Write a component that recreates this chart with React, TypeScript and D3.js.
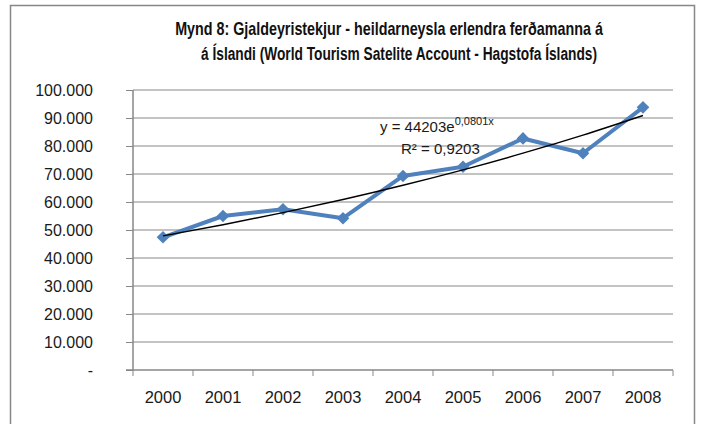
import React, { useEffect, useRef } from "react";
import * as d3 from "d3";

// data
const years = ["2000", "2001", "2002", "2003", "2004", "2005", "2006", "2007", "2008"];
const revenue = [47400, 55000, 57400, 54200, 69300, 72600, 82700, 77400, 93800];
// exponential trend line (y = 44203e^0,0801x), read at each year
const trend = [47890, 51880, 56200, 60890, 65970, 71470, 77430, 83880, 90880];
const yTicks = [0, 10000, 20000, 30000, 40000, 50000, 60000, 70000, 80000, 90000, 100000];
const titleLines = [
  "Mynd 8:  Gjaldeyristekjur - heildarneysla erlendra ferðamanna á",
  "á Íslandi (World Tourism Satelite Account - Hagstofa Íslands)",
];

export default function App() {
  const ref = useRef<SVGSVGElement>(null);

  useEffect(() => {
    const svg = d3.select(ref.current);
    svg.selectAll("*").remove();

    const W = 702, H = 424;
    const margin = { top: 90, right: 29, bottom: 54, left: 133 };
    const width = W - margin.left - margin.right;
    const height = H - margin.top - margin.bottom;
    const font = "'Liberation Sans', Arial, sans-serif";
    const grey = "#878787";

    // chart border
    svg
      .append("rect")
      .attr("x", 10.5)
      .attr("y", 5.5)
      .attr("width", 684)
      .attr("height", 430)
      .attr("fill", "white")
      .attr("stroke", grey)
      .attr("stroke-width", 1.5);

    // title: each line is squeezed to the width it has in the reference
    const titleX = [389, 399];
    const titleW = [428, 396];
    titleLines.forEach((t, i) => {
      const tg = svg.append("g");
      const txt = tg
        .append("text")
        .attr("x", 0)
        .attr("y", 0)
        .attr("text-anchor", "middle")
        .style("font-family", font)
        .style("font-weight", "bold")
        .style("font-size", "18px")
        .style("fill", "#111")
        .text(t);
      const len = (txt.node() as SVGTextElement).getComputedTextLength() || titleW[i];
      tg.attr(
        "transform",
        "translate(" + titleX[i] + "," + (35 + i * 25) + ") scale(" + titleW[i] / len + ",1)"
      );
    });

    const g = svg
      .append("g")
      .attr("transform", "translate(" + margin.left + "," + margin.top + ")");

    const x = d3.scaleBand().domain(years).range([0, width]);
    const y = d3.scaleLinear().domain([0, 100000]).range([height, 0]);

    const loc = d3.formatLocale({ decimal: ",", thousands: ".", grouping: [3], currency: ["", ""] });
    const fmt = loc.format(",d");

    // gridlines
    g.append("g")
      .selectAll("line")
      .data(yTicks.slice(1))
      .enter()
      .append("line")
      .attr("x1", 0)
      .attr("x2", width)
      .attr("y1", d => y(d))
      .attr("y2", d => y(d))
      .attr("stroke", grey)
      .attr("stroke-width", 1);

    // y axis
    const yAxis = g
      .append("g")
      .call(
        d3
          .axisLeft(y)
          .tickValues(yTicks)
          .tickSize(7)
          .tickPadding(33)
          .tickFormat(d => ((d as number) === 0 ? "-" : fmt(d as number)))
      );
    yAxis.select(".domain").attr("stroke", grey).attr("stroke-width", 1.5);
    yAxis.selectAll(".tick line").attr("stroke", grey).attr("stroke-width", 1);
    yAxis
      .selectAll(".tick text")
      .attr("x", -40)
      .style("font-family", font)
      .style("font-size", "16px")
      .style("fill", "#1a1a1a");
    yAxis.select(".domain").attr("d", "M0," + height + "V0");

    // x axis
    const xAxis = g
      .append("g")
      .attr("transform", "translate(0," + height + ")")
      .call(d3.axisBottom(x).tickSize(0).tickPadding(21));
    xAxis.select(".domain").attr("stroke", grey).attr("stroke-width", 1.5).attr("d", "M-7,0H" + width);
    xAxis
      .selectAll(".tick text")
      .style("font-family", font)
      .style("font-size", "16.5px")
      .style("fill", "#1a1a1a");
    xAxis
      .append("g")
      .selectAll("line")
      .data(years.map((d, i) => i).concat([years.length]))
      .enter()
      .append("line")
      .attr("x1", i => i * x.step())
      .attr("x2", i => i * x.step())
      .attr("y1", 0)
      .attr("y2", 6)
      .attr("stroke", grey)
      .attr("stroke-width", 1);

    const cx = (i: number) => (x(years[i]) as number) + x.bandwidth() / 2;

    // data line
    const line = d3
      .line<number>()
      .x((d, i) => cx(i))
      .y(d => y(d));
    g.append("path")
      .datum(revenue)
      .attr("d", line)
      .attr("fill", "none")
      .attr("stroke", "#4F81BD")
      .attr("stroke-width", 4)
      .attr("stroke-linejoin", "round");

    // markers
    const diamond = d3.symbol().type(d3.symbolSquare).size(80);
    g.append("g")
      .selectAll("path")
      .data(revenue)
      .enter()
      .append("path")
      .attr("d", diamond)
      .attr("transform", (d, i) => "translate(" + cx(i) + "," + y(d) + ") rotate(45)")
      .attr("fill", "#4F81BD");

    // trend line
    const trendLine = d3
      .line<number>()
      .x((d, i) => cx(i))
      .y(d => y(d))
      .curve(d3.curveMonotoneX);
    g.append("path")
      .datum(trend)
      .attr("d", trendLine)
      .attr("fill", "none")
      .attr("stroke", "#000")
      .attr("stroke-width", 1.4);

    // equation label
    const eq = svg
      .append("text")
      .attr("x", 380)
      .attr("y", 132)
      .style("font-family", font)
      .style("font-size", "15px")
      .style("fill", "#1a1a1a");
    eq.append("tspan").text("y = 44203e");
    eq.append("tspan").attr("dy", -7).style("font-size", "11px").text("0,0801x");
    svg
      .append("text")
      .attr("x", 401)
      .attr("y", 154)
      .style("font-family", font)
      .style("font-size", "15px")
      .style("fill", "#1a1a1a")
      .text("R² = 0,9203");
  }, []);

  return (
    <svg
      ref={ref}
      width={702}
      height={424}
      style={{ position: "absolute", left: 0, top: 0, background: "white" }}
    />
  );
}
